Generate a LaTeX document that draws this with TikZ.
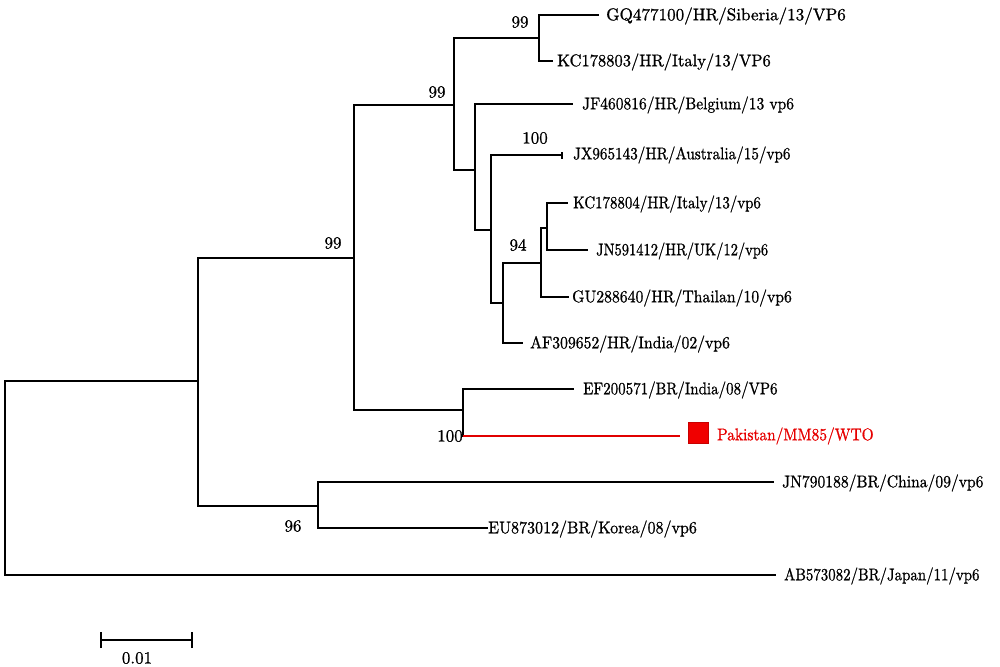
\documentclass[tikz,border=0pt]{standalone}
\usepackage{fontspec}
\newfontfamily\lblfont{lmroman10-regular.otf}[FakeBold=1.0]
\usetikzlibrary{positioning}
\begin{document}
\begin{tikzpicture}[x=1pt,y=-1pt,
  branch/.style={line width=1.6pt,line cap=rect},
  redbranch/.style={line width=1.6pt,draw={rgb,255:red,225;green,0;blue,0}},
  leaf/.style={anchor=west,inner sep=0pt,font=\lblfont\fontsize{17}{20}\selectfont,xscale=#1/17,transform shape},
  leaf/.default=15.5,
  redleaf/.style={leaf=#1,text={rgb,255:red,230;green,0;blue,0}},
  redleaf/.default=15.5,
  boot/.style={inner sep=0pt,font=\lblfont\fontsize{17}{20}\selectfont}]
\useasboundingbox (0,0) rectangle (1000,666);
% internal nodes
\coordinate (root) at (5,478);
\coordinate (n1) at (198,381);
\coordinate (nA) at (354,258);
\coordinate (nBR) at (318,506);
\coordinate (nHR) at (454,105);
\coordinate (nSI) at (539,38);
\coordinate (nL) at (475,170);
\coordinate (n491) at (491,230);
\coordinate (n503) at (503,303);
\coordinate (n541) at (541,263);
\coordinate (n547) at (547,228);
\coordinate (nEP) at (463,410);
% leaf tips
\coordinate (tGQ) at (598,15);
\coordinate (tKC3) at (552,61);
\coordinate (tJF) at (572,104);
\coordinate (tJX) at (562,155);
\coordinate (tKC4) at (567,203);
\coordinate (tJN5) at (587,250);
\coordinate (tGU) at (568,297);
\coordinate (tAF) at (522,343);
\coordinate (tEF) at (573,389);
\coordinate (tPK) at (680,436);
\coordinate (tJN7) at (773,482);
\coordinate (tEU) at (487,528);
\coordinate (tAB) at (775,575);
% branches
\draw[branch] (root) |- (n1);
\draw[branch] (root) |- (tAB);
\draw[branch] (n1) |- (nA);
\draw[branch] (n1) |- (nBR);
\draw[branch] (nA) |- (nHR);
\draw[branch] (nA) |- (nEP);
\draw[branch] (nHR) |- (nSI);
\draw[branch] (nHR) |- (nL);
\draw[branch] (nSI) |- (tGQ);
\draw[branch] (nSI) |- (tKC3);
\draw[branch] (nL) |- (tJF);
\draw[branch] (nL) |- (n491);
\draw[branch] (n491) |- (tJX);
\draw[branch] (n491) |- (n503);
\draw[branch] (n503) |- (n541);
\draw[branch] (n503) |- (tAF);
\draw[branch] (n541) |- (n547);
\draw[branch] (n541) |- (tGU);
\draw[branch] (n547) |- (tKC4);
\draw[branch] (n547) |- (tJN5);
\draw[branch] (nEP) |- (tEF);
\draw[branch] (nEP) |- (nEP |- tPK);
\draw[redbranch] (nEP |- tPK) -- (tPK);
\draw[branch] (nBR) |- (tJN7);
\draw[branch] (nBR) |- (tEU);
\draw[line width=1.2pt] ([yshift=-3.5pt]tJX) -- ([yshift=3.5pt]tJX);
% red square
\node[draw={rgb,255:red,200;green,0;blue,0},fill={rgb,255:red,240;green,0;blue,0},minimum width=20pt,minimum height=21pt,inner sep=0pt,line width=0.6pt] (sq) at (698,433) {};
% leaf labels
\node[leaf=17.1] (lGQ) at (606,16) {GQ477100/HR/Siberia/13/VP6};
\node[leaf=16.5] (lKC3) at (557,62) {KC178803/HR/Italy/13/VP6};
\node[leaf=15.5] (lJF) at (582,105) {JF460816/HR/Belgium/13 vp6};
\node[leaf=15.15] (lJX) at (573,155) {JX965143/HR/Australia/15/vp6};
\node[leaf=14.9] (lKC4) at (573,204) {KC178804/HR/Italy/13/vp6};
\node[leaf=14.5] (lJN5) at (596,251) {JN591412/HR/UK/12/vp6};
\node[leaf=15.7] (lGU) at (572,298) {GU288640/HR/Thailan/10/vp6};
\node[leaf=15.7] (lAF) at (530,344) {AF309652/HR/India/02/vp6};
\node[leaf=15.0] (lEF) at (583,390) {EF200571/BR/India/08/VP6};
\node[redleaf=15.4] (lPK) at (717,436) {Pakistan/MM85/WTO};
\node[leaf=15.6] (lJN7) at (782,483) {JN790188/BR/China/09/vp6};
\node[leaf=16.0] (lEU) at (488,529) {EU873012/BR/Korea/08/vp6};
\node[leaf=14.9] (lAB) at (784,576) {AB573082/BR/Japan/11/vp6};
% bootstrap values
\node[boot] (b1) at (520,22) {99};
\node[boot] (b2) at (437,92) {99};
\node[boot] (b3) at (535,138) {100};
\node[boot] (b4) at (518,245) {94};
\node[boot] (b5) at (333,243) {99};
\node[boot] (b6) at (450,436) {100};
\node[boot] (b7) at (293,526) {96};
% scale bar
\coordinate (sbL) at (101,640);
\coordinate (sbR) at (192,640);
\draw[line width=1.6pt] (sbL) -- (sbR);
\draw[line width=1.6pt] ([yshift=-8pt]sbL) -- ([yshift=8pt]sbL);
\draw[line width=1.6pt] ([yshift=-8pt]sbR) -- ([yshift=8pt]sbR);
\node[boot] (sbT) at (137,658) {0.01};
\end{tikzpicture}
\end{document}
